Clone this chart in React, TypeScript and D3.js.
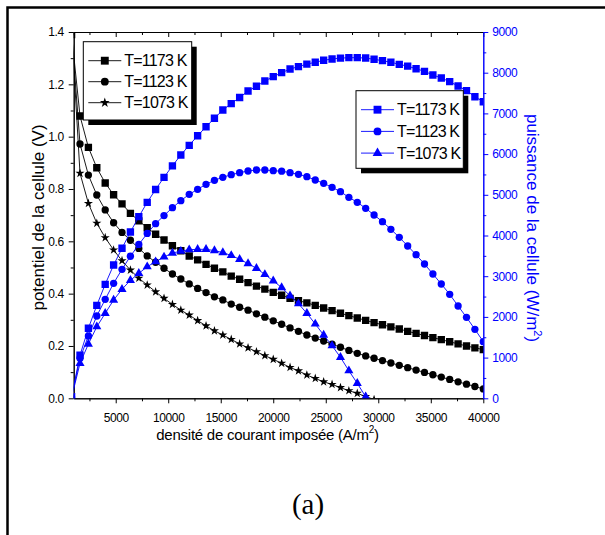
import { useEffect, useRef } from "react"
import * as d3 from "d3"

// current density (A/m2), one point every 800 A/m2
const currents = [
  800, 1600, 2400, 3200, 4000, 4800, 5600, 6400, 7200, 8000,
  8800, 9600, 10400, 11200, 12000, 12800, 13600, 14400, 15200, 16000,
  16800, 17600, 18400, 19200, 20000, 20800, 21600, 22400, 23200, 24000,
  24800, 25600, 26400, 27200, 28000, 28800, 29600, 30400, 31200, 32000,
  32800, 33600, 34400, 35200, 36000, 36800, 37600, 38400, 39200, 40000,
]

// cell potential (V)
const voltage1173 = [
  1.39, 1.079, 0.959, 0.881, 0.823, 0.778, 0.743, 0.707, 0.678, 0.652,
  0.627, 0.605, 0.583, 0.564, 0.544, 0.529, 0.512, 0.497, 0.483, 0.467,
  0.455, 0.442, 0.429, 0.417, 0.405, 0.394, 0.382, 0.373, 0.365, 0.355,
  0.345, 0.335, 0.325, 0.316, 0.307, 0.298, 0.289, 0.281, 0.273, 0.265,
  0.256, 0.248, 0.24, 0.232, 0.224, 0.216, 0.208, 0.2, 0.193, 0.186,
]
const voltage1123 = [
  1.4, 0.972, 0.853, 0.777, 0.72, 0.671, 0.634, 0.604, 0.573, 0.544,
  0.52, 0.497, 0.475, 0.456, 0.437, 0.42, 0.404, 0.388, 0.376, 0.36,
  0.348, 0.337, 0.323, 0.31, 0.296, 0.283, 0.269, 0.256, 0.242, 0.23,
  0.219, 0.207, 0.195, 0.183, 0.172, 0.162, 0.153, 0.144, 0.135, 0.126,
  0.117, 0.108, 0.099, 0.09, 0.081, 0.072, 0.063, 0.054, 0.045, 0.036,
]
const voltage1073 = [
  1.41, 0.86, 0.745, 0.669, 0.614, 0.567, 0.526, 0.49, 0.459, 0.433,
  0.407, 0.382, 0.359, 0.337, 0.318, 0.297, 0.277, 0.258, 0.242, 0.225,
  0.208, 0.193, 0.178, 0.163, 0.149, 0.134, 0.118, 0.105, 0.089, 0.076,
  0.063, 0.053, 0.041, 0.029, 0.019, 0.007, -0.005,
]

// cell power (W/m2)
const power1173 = [
  40, 1060, 1720, 2285, 2801, 3275, 3686, 4086, 4462, 4815,
  5130, 5430, 5712, 5978, 6216, 6452, 6673, 6880, 7084, 7240,
  7390, 7550, 7666, 7796, 7902, 8000, 8090, 8150, 8210, 8256,
  8305, 8337, 8358, 8369, 8369, 8360, 8330, 8295, 8256, 8206,
  8160, 8098, 8034, 7943, 7870, 7779, 7673, 7558, 7410, 7287,
]
const power1123 = [
  30, 983, 1531, 2022, 2431, 2826, 3170, 3490, 3780, 4050,
  4290, 4490, 4683, 4855, 5012, 5135, 5258, 5356, 5430, 5494,
  5543, 5585, 5609, 5609, 5592, 5580, 5543, 5504, 5445, 5364,
  5282, 5184, 5077, 4939, 4816, 4668, 4504, 4339, 4152, 3956,
  3742, 3528, 3300, 3054, 2808, 2555, 2268, 1990, 1695, 1391,
]
const power1073 = [
  20, 860, 1334, 1759, 2088, 2415, 2678, 2900, 3070, 3234,
  3356, 3472, 3570, 3615, 3652, 3660, 3660, 3630, 3580, 3510,
  3415, 3310, 3194, 3042, 2885, 2722, 2518, 2325, 2088, 1826,
  1555, 1292, 1007, 678, 368, 39, -320,
]

const temperatures = ["T=1173 K", "T=1123 K", "T=1073 K"]

const xMajorTicks = [5000, 10000, 15000, 20000, 25000, 30000, 35000, 40000]
const xMinorTicks = [2500, 7500, 12500, 17500, 22500, 27500, 32500, 37500]
const vMajorTicks = [0, 0.2, 0.4, 0.6, 0.8, 1.0, 1.2, 1.4]
const vMinorTicks = [0.1, 0.3, 0.5, 0.7, 0.9, 1.1, 1.3]
const pMajorTicks = [0, 1000, 2000, 3000, 4000, 5000, 6000, 7000, 8000, 9000]
const pMinorTicks = [500, 1500, 2500, 3500, 4500, 5500, 6500, 7500, 8500]

const BLUE = "#0000ff"
const FONT = "'Liberation Sans', Arial, sans-serif"

const App = () => {
  const ref = useRef(null)

  useEffect(() => {
    const svg = d3.select(ref.current)
    svg.selectAll("*").remove()

    const left = 73.7
    const right = 483.3
    const top = 32
    const bottom = 398.3

    const x = d3.scaleLinear().domain([1000, 40000]).range([left, right])
    const yV = d3.scaleLinear().domain([0, 1.4]).range([bottom, top])
    const yP = d3.scaleLinear().domain([0, 9000]).range([bottom, top])

    // outer frame (cut at right and bottom in the original)
    svg
      .append("rect")
      .attr("x", 7.5)
      .attr("y", 7.5)
      .attr("width", 800)
      .attr("height", 800)
      .attr("fill", "none")
      .attr("stroke", "#000")
      .attr("stroke-width", 2.5)

    svg
      .append("defs")
      .append("clipPath")
      .attr("id", "plot-clip")
      .append("rect")
      .attr("x", left)
      .attr("y", top)
      .attr("width", right - left)
      .attr("height", bottom - top)

    const styleAxis = (g, colour, size = 12) => {
      g.select(".domain").attr("stroke", colour).attr("stroke-width", 1)
      g.selectAll(".tick line").attr("stroke", colour).attr("stroke-width", 1)
      g.selectAll("text")
        .attr("fill", colour)
        .attr("font-family", FONT)
        .attr("font-size", size)
        .attr("letter-spacing", -0.4)
    }

    // bottom axis
    const xMinor = svg
      .append("g")
      .attr("transform", `translate(0,${bottom})`)
      .call(d3.axisBottom(x).tickValues(xMinorTicks).tickSize(3).tickSizeOuter(0).tickFormat(() => ""))
    styleAxis(xMinor, "#000")
    const xAxis = svg
      .append("g")
      .attr("transform", `translate(0,${bottom})`)
      .call(d3.axisBottom(x).tickValues(xMajorTicks).tickSize(5).tickSizeOuter(0).tickPadding(10).tickFormat(d3.format("d")))
    styleAxis(xAxis, "#000")

    // top axis, ticks inward
    const topMinor = svg
      .append("g")
      .attr("transform", `translate(0,${top})`)
      .call(d3.axisBottom(x).tickValues(xMinorTicks).tickSize(3).tickSizeOuter(0).tickFormat(() => ""))
    styleAxis(topMinor, "#000")
    const topMajor = svg
      .append("g")
      .attr("transform", `translate(0,${top})`)
      .call(d3.axisBottom(x).tickValues(xMajorTicks).tickSize(5).tickSizeOuter(0).tickFormat(() => ""))
    styleAxis(topMajor, "#000")

    // left axis
    const vMinor = svg
      .append("g")
      .attr("transform", `translate(${left},0)`)
      .call(d3.axisLeft(yV).tickValues(vMinorTicks).tickSize(3).tickSizeOuter(0).tickFormat(() => ""))
    styleAxis(vMinor, "#000")
    const vAxis = svg
      .append("g")
      .attr("transform", `translate(${left},0)`)
      .call(d3.axisLeft(yV).tickValues(vMajorTicks).tickSize(5).tickSizeOuter(0).tickPadding(5).tickFormat(d3.format(".1f")))
    styleAxis(vAxis, "#000")

    // right axis (power)
    const pMinor = svg
      .append("g")
      .attr("transform", `translate(${right},0)`)
      .call(d3.axisRight(yP).tickValues(pMinorTicks).tickSize(3).tickSizeOuter(0).tickFormat(() => ""))
    styleAxis(pMinor, BLUE)
    const pAxis = svg
      .append("g")
      .attr("transform", `translate(${right},0)`)
      .call(d3.axisRight(yP).tickValues(pMajorTicks).tickSize(5).tickSizeOuter(0).tickPadding(4).tickFormat(d3.format("d")))
    styleAxis(pAxis, BLUE)

    // axis titles
    const xTitle = svg
      .append("text")
      .attr("x", 267.5)
      .attr("y", 440)
      .attr("text-anchor", "middle")
      .attr("font-family", FONT)
      .attr("font-size", 15)
      .attr("letter-spacing", -0.25)
      .attr("fill", "#000")
    xTitle.append("tspan").text("densité de courant imposée (A/m")
    xTitle.append("tspan").attr("font-size", 10).attr("dy", -7).text("2")
    xTitle.append("tspan").attr("dy", 7).text(")")

    svg
      .append("text")
      .attr("transform", "translate(43.5,217.5) rotate(-90)")
      .attr("text-anchor", "middle")
      .attr("font-family", FONT)
      .attr("font-size", 17)
      .attr("fill", "#000")
      .text("potentiel de la cellule (V)")

    const pTitle = svg
      .append("text")
      .attr("transform", "translate(526.5,228) rotate(90)")
      .attr("text-anchor", "middle")
      .attr("font-family", FONT)
      .attr("font-size", 17)
      .attr("fill", BLUE)
    pTitle.append("tspan").text("puissance de la cellule (W/m")
    pTitle.append("tspan").attr("font-size", 11).attr("dy", -7).text("2")
    pTitle.append("tspan").attr("dy", 7).text(")")

    // series
    const symbols = [d3.symbolSquare, d3.symbolCircle, d3.symbolStar]
    const powerSymbols = [d3.symbolSquare, d3.symbolCircle, d3.symbolTriangle]
    const symbolSize = (type) =>
      type === d3.symbolSquare ? 54 : type === d3.symbolCircle ? 42 : type === d3.symbolStar ? 26 : 36

    const plot = svg.append("g").attr("clip-path", "url(#plot-clip)")

    const drawSeries = (values, yScale, colour, type) => {
      const pts = values.map((v, i) => [currents[i], v])
      const line = d3
        .line()
        .x((d) => x(d[0]))
        .y((d) => yScale(d[1]))
      plot
        .append("path")
        .attr("d", line(pts))
        .attr("fill", "none")
        .attr("stroke", colour)
        .attr("stroke-width", 0.9)
      plot
        .append("g")
        .selectAll("path")
        .data(pts)
        .join("path")
        .attr("transform", (d) => `translate(${x(d[0])},${yScale(d[1])})`)
        .attr("d", d3.symbol().type(type).size(symbolSize(type)))
        .attr("fill", colour)
    }

    const voltages = [voltage1173, voltage1123, voltage1073]
    const powers = [power1173, power1123, power1073]
    voltages.forEach((v, i) => drawSeries(v, yV, "#000", symbols[i]))
    powers.forEach((p, i) => drawSeries(p, yP, BLUE, powerSymbols[i]))

    // legends with drop shadow
    const drawLegend = (x0, y0, w, h, rows, colour, types, rowGap) => {
      const g = svg.append("g")
      g.append("rect")
        .attr("x", x0 + 5)
        .attr("y", y0 + 5)
        .attr("width", w)
        .attr("height", h)
        .attr("fill", "#000")
      g.append("rect")
        .attr("x", x0)
        .attr("y", y0)
        .attr("width", w)
        .attr("height", h)
        .attr("fill", "#fff")
        .attr("stroke", "#000")
        .attr("stroke-width", 1)
      rows.forEach((label, i) => {
        const cy = y0 + 19 + i * rowGap
        g.append("line")
          .attr("x1", x0 + 5)
          .attr("x2", x0 + 38)
          .attr("y1", cy)
          .attr("y2", cy)
          .attr("stroke", colour)
          .attr("stroke-width", 0.9)
        g.append("path")
          .attr("transform", `translate(${x0 + 21.5},${cy})`)
          .attr("d", d3.symbol().type(types[i]).size(symbolSize(types[i]) * 1.15))
          .attr("fill", colour)
        g.append("text")
          .attr("x", x0 + 41)
          .attr("y", cy + 5.7)
          .attr("font-family", FONT)
          .attr("font-size", 16)
          .attr("letter-spacing", -0.8)
          .attr("fill", "#000")
          .text(label)
      })
    }

    drawLegend(83.3, 41.7, 108.4, 78.3, temperatures, "#000", symbols, 21)
    drawLegend(356, 90.7, 107.3, 77.6, temperatures, BLUE, powerSymbols, 21.7)

    // caption
    svg
      .append("text")
      .attr("x", 308)
      .attr("y", 514)
      .attr("text-anchor", "middle")
      .attr("font-family", "'Liberation Serif', 'Times New Roman', serif")
      .attr("font-size", 29)
      .attr("fill", "#000")
      .text("(a)")
  }, [])

  return (
    <svg
      ref={ref}
      width={605}
      height={535}
      viewBox="0 0 605 535"
      style={{ position: "absolute", left: 0, top: 0, background: "#fff" }}
    />
  )
}

export default App
